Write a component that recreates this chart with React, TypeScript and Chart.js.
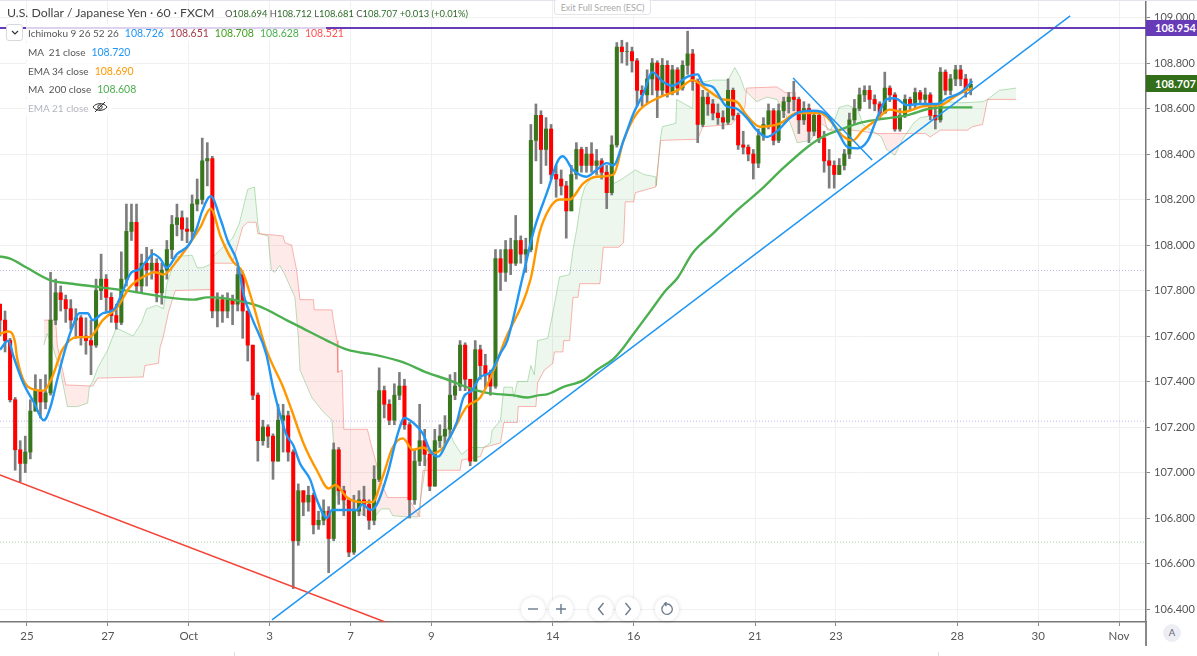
import React, { useEffect, useRef } from "react";
import { Chart, registerables } from "chart.js";

Chart.register(...registerables);

const candleStartHour = -16;
const candleStepHours = 3;

const closes = [
  107.67,107.58,107.32,107.10,107.04,107.09,107.27,107.36,107.31,107.35,
  107.67,107.79,107.76,107.72,107.67,107.68,107.60,107.58,107.56,107.80,
  107.85,107.77,107.69,107.66,107.85,108.06,108.10,107.82,107.92,107.89,
  107.92,107.79,107.89,107.98,108.09,108.12,108.07,108.06,108.18,108.20,
  108.37,108.38,107.71,107.76,107.71,107.76,107.74,107.87,107.71,107.56,
  107.34,107.14,107.20,107.16,107.05,107.23,107.25,107.09,106.70,106.92,
  106.87,106.90,106.77,106.79,106.83,106.71,107.10,106.92,106.88,106.65,
  106.83,106.88,106.86,106.79,106.97,107.36,107.30,107.23,107.34,107.38,
  107.21,106.88,107.05,107.14,107.08,106.94,107.14,107.16,107.19,107.34,
  107.38,107.56,107.41,107.05,107.54,107.47,107.43,107.38,107.94,107.88,
  107.98,107.92,108.02,107.96,107.98,108.46,108.57,108.42,108.51,108.31,
  108.29,108.26,108.15,108.31,108.42,108.35,108.40,108.35,108.37,108.32,
  108.23,108.44,108.87,108.85,108.85,108.81,108.68,108.66,108.73,108.80,
  108.68,108.79,108.67,108.77,108.69,108.79,108.84,108.72,108.53,108.65,
  108.62,108.58,108.56,108.54,108.68,108.57,108.44,108.43,108.40,108.36,
  108.48,108.53,108.59,108.46,108.59,108.63,108.65,108.64,108.55,108.60,
  108.50,108.57,108.47,108.37,108.35,108.31,108.35,108.40,108.55,108.60,
  108.66,108.68,108.64,108.62,108.58,108.69,108.66,108.51,108.57,108.64,
  108.62,108.67,108.64,108.66,108.57,108.55,108.76,108.68,108.73,108.77,
  108.73,108.68,108.707,
];
const firstOpen = 107.74;
const highs = [
  107.74,107.71,107.59,107.33,107.14,107.16,107.32,107.43,107.41,107.43,
  107.88,107.85,107.82,107.78,107.76,107.72,107.69,107.68,107.67,107.85,
  107.96,107.87,107.79,107.74,107.97,108.18,108.18,108.18,107.96,107.99,
  107.98,107.94,107.92,108.02,108.13,108.18,108.15,108.12,108.22,108.29,
  108.47,108.45,108.39,107.79,107.78,107.79,107.78,107.90,107.88,107.71,
  107.56,107.35,107.23,107.21,107.17,107.30,107.30,107.27,107.10,106.95,
  106.92,106.94,106.91,106.83,106.88,106.85,107.13,107.11,106.94,106.88,
  106.90,106.92,106.94,106.88,107.03,107.46,107.38,107.32,107.39,107.44,
  107.41,107.22,107.10,107.30,107.19,107.10,107.19,107.21,107.25,107.43,
  107.44,107.58,107.57,107.41,107.58,107.56,107.52,107.45,107.98,107.98,
  108.02,108.03,108.13,108.04,108.03,108.53,108.62,108.59,108.56,108.53,
  108.35,108.33,108.28,108.35,108.45,108.43,108.43,108.45,108.42,108.38,
  108.35,108.48,108.89,108.90,108.89,108.87,108.82,108.70,108.77,108.82,
  108.81,108.82,108.81,108.79,108.78,108.81,108.94,108.86,108.73,108.68,
  108.67,108.64,108.62,108.59,108.73,108.69,108.58,108.50,108.44,108.42,
  108.51,108.56,108.62,108.60,108.62,108.65,108.67,108.72,108.65,108.63,
  108.62,108.59,108.58,108.50,108.42,108.37,108.38,108.42,108.58,108.64,
  108.69,108.70,108.70,108.66,108.63,108.76,108.70,108.67,108.60,108.66,
  108.65,108.69,108.68,108.69,108.67,108.62,108.78,108.77,108.75,108.79,
  108.79,108.75,108.73,
];
const lows = [
  107.60,107.53,107.31,107.01,106.96,107.00,107.06,107.27,107.24,107.28,
  107.34,107.65,107.71,107.66,107.63,107.59,107.56,107.52,107.43,107.55,
  107.76,107.71,107.66,107.63,107.65,107.82,108.02,107.79,107.79,107.82,
  107.85,107.75,107.74,107.85,107.94,108.04,108.02,108.01,108.03,108.15,
  108.18,108.26,107.68,107.64,107.66,107.68,107.65,107.71,107.59,107.49,
  107.32,107.05,107.12,107.11,106.97,107.05,107.09,107.05,106.49,106.68,
  106.81,106.83,106.73,106.75,106.77,106.56,106.70,106.86,106.81,106.63,
  106.64,106.81,106.81,106.75,106.77,106.96,107.24,107.21,107.21,107.32,
  107.19,106.80,106.86,107.03,107.03,106.92,106.94,107.11,107.12,107.16,
  107.32,107.36,107.36,107.03,107.05,107.41,107.37,107.34,107.37,107.80,
  107.84,107.87,107.91,107.92,107.88,107.97,108.37,108.27,108.35,108.29,
  108.21,108.22,108.03,108.15,108.29,108.32,108.32,108.32,108.31,108.29,
  108.16,108.22,108.43,108.80,108.79,108.76,108.61,108.61,108.62,108.66,
  108.56,108.66,108.65,108.66,108.66,108.68,108.75,108.68,108.45,108.52,
  108.57,108.55,108.53,108.51,108.53,108.55,108.42,108.40,108.37,108.29,
  108.34,108.46,108.51,108.44,108.45,108.56,108.58,108.59,108.49,108.53,
  108.45,108.48,108.45,108.32,108.25,108.25,108.31,108.33,108.38,108.53,
  108.59,108.63,108.60,108.59,108.56,108.58,108.63,108.50,108.50,108.56,
  108.59,108.60,108.62,108.62,108.55,108.51,108.54,108.66,108.66,108.70,
  108.70,108.65,108.66,
];

const ma21Hours = [-16,-11,-8,-2,4,10,14,18,23,27,31,36,39,45,52,57,62,66,71,75,79,83,89,96,101,104,109,115,119,125,129,134,142,146,150,154,158,162,168,172,178,181,190,196,199,204,208,214,220,224,229,235,239,244,249,255,259,264,269,275,281,285,294,301,309,315,318,324,332,338,344,348,354,360,366,371,377,383,392,398,401,407,415,421,427,433,439,445,453,459,467,475,481,487,493,499,504,510,515,522,530,540,546,554,561];
const ma21Values = [107.54,107.58,107.51,107.39,107.31,107.23,107.29,107.41,107.55,107.64,107.70,107.70,107.67,107.70,107.72,107.80,107.88,107.89,107.93,107.96,107.94,107.90,107.96,108.00,108.08,108.15,108.215,108.11,108.02,107.92,107.77,107.67,107.52,107.375,107.26,107.165,107.12,107.04,106.97,106.88,106.80,106.835,106.835,106.835,106.86,106.835,106.865,106.995,107.17,107.24,107.22,107.17,107.10,107.07,107.13,107.22,107.33,107.36,107.42,107.44,107.525,107.58,107.855,108.07,108.24,108.37,108.39,108.33,108.30,108.33,108.36,108.35,108.46,108.58,108.67,108.76,108.72,108.70,108.74,108.75,108.71,108.695,108.61,108.60,108.56,108.505,108.475,108.50,108.56,108.585,108.59,108.57,108.50,108.43,108.425,108.46,108.55,108.64,108.645,108.615,108.62,108.62,108.645,108.67,108.72];

const ema34Hours = [-16,-11,-7,-6,1,10,15,21,30,37,45,54,61,69,76,81,89,96,103,109,115,122,128,134,142,152,157,164,172,179,183,190,198,205,211,217,223,229,235,241,247,253,261,269,277,283,299,304,310,316,322,330,338,348,354,362,374,386,395,404,413,421,427,435,447,457,471,478,484,490,496,504,512,520,532,542,552,561];
const ema34Values = [107.61,107.62,107.57,107.51,107.375,107.36,107.42,107.54,107.595,107.595,107.67,107.73,107.815,107.86,107.88,107.87,107.93,108.00,108.08,108.16,108.035,107.93,107.88,107.745,107.54,107.375,107.275,107.13,107.01,106.93,106.945,106.89,106.87,106.87,106.98,107.11,107.15,107.10,107.11,107.085,107.11,107.185,107.29,107.33,107.45,107.57,107.855,108.05,108.16,108.20,108.20,108.27,108.30,108.31,108.46,108.58,108.645,108.68,108.725,108.68,108.64,108.63,108.57,108.52,108.535,108.58,108.58,108.535,108.48,108.46,108.505,108.55,108.595,108.585,108.61,108.615,108.66,108.69];

const ma200Hours = [-16,-10,0,14,27,43,63,83,99,107,110,122,138,154,162,178,190,208,223,237,249,263,273,288,297,304,309,318,330,338,348,354,358,370,379,386,395,407,421,435,449,463,472,482,496,508,522,536,548,561];
const ma200Values = [107.95,107.94,107.90,107.845,107.83,107.815,107.795,107.77,107.76,107.77,107.77,107.76,107.73,107.67,107.64,107.58,107.54,107.515,107.485,107.44,107.41,107.37,107.35,107.34,107.33,107.34,107.345,107.375,107.405,107.45,107.50,107.55,107.59,107.71,107.80,107.855,107.965,108.05,108.15,108.24,108.34,108.43,108.475,108.505,108.54,108.555,108.57,108.60,108.605,108.605];

const cloudAHours = [10,12,15,20,24,30,36,37,39,42,48,50,53,63,68,71,77,81,83,85,89,98,101,104,109,110,116,122,126,131,135,137,138,143,145,147,150,153,159,161,162,169,176,181,184,189,205,210,215,217,226,232,237,250,253,258,263,271,275,276,281,283,288,289,291,297,299,301,303,309,312,316,322,324,326,329,331,335,342,348,352,361,366,373,373.5,376,377,385,385.5,395,395.5,407,416,420,423,426,433,439,445,453,457,465,471,477,482,487,493,496,507,510,515,520,526,530,538,546,554,567,570,577,587];
const cloudAValues = [107.56,107.61,107.56,107.44,107.29,107.29,107.305,107.375,107.40,107.46,107.54,107.58,107.635,107.60,107.66,107.72,107.735,107.72,107.83,107.875,107.95,107.955,107.90,107.90,107.915,107.945,107.99,108.03,108.095,108.245,108.255,108.095,108.05,108.04,107.89,107.88,107.91,107.87,107.77,107.595,107.45,107.33,107.265,107.23,106.90,106.86,106.79,106.84,106.84,106.81,106.805,106.805,107.055,107.20,107.135,107.08,107.11,107.11,107.13,107.185,107.23,107.375,107.375,107.33,107.40,107.40,107.47,107.43,107.58,107.59,107.70,107.86,107.87,107.98,108.06,108.205,108.255,108.295,108.32,108.27,108.285,108.33,108.31,108.30,108.26,108.475,108.52,108.535,108.64,108.60,108.71,108.725,108.725,108.78,108.74,108.68,108.63,108.65,108.64,108.535,108.45,108.46,108.535,108.505,108.605,108.615,108.595,108.53,108.475,108.42,108.395,108.47,108.535,108.56,108.57,108.63,108.625,108.63,108.64,108.68,108.69];

const cloudBHours = [10,17,18,23,39,42,69,70,78,79,81,84,88,110,110.5,122,128,131,136,137,152,153,157,160,162,170,170.5,181,182,184,184.5,187,188,202,204,211,214,226,233,234,235,257,258,269,271,281,283,291,291.5,302,303,307,312,313,318,318.5,322,324,327,328,340,342,351,354,355,360,361,373,376,398,401,418,426,427,445,450,456,456.5,472,475,490,505,533,536,542,558,561,567,570,587];
const cloudBValues = [107.67,107.67,107.56,107.385,107.38,107.415,107.42,107.47,107.48,107.55,107.60,107.705,107.80,107.805,107.92,107.92,108.08,108.10,108.10,108.05,108.04,108.01,108.00,107.89,107.76,107.76,107.715,107.715,107.66,107.58,107.44,107.45,107.19,107.19,107.13,106.94,106.89,106.89,106.805,106.935,107.01,107.01,107.055,107.07,107.11,107.13,107.22,107.22,107.29,107.29,107.395,107.45,107.48,107.53,107.53,107.58,107.58,107.77,107.77,107.83,107.83,107.99,107.99,108.01,108.19,108.19,108.23,108.255,108.46,108.465,108.52,108.53,108.605,108.69,108.695,108.67,108.67,108.59,108.59,108.505,108.505,108.49,108.49,108.475,108.505,108.505,108.52,108.53,108.64,108.64];

const supportLineHours = [145.4, 619];
const supportLineValues = [106.352, 109.007];
const resistanceLineHours = [-16, 212.5];
const resistanceLineValues = [106.989, 106.343];
const shortLineHours = [454.6, 501.5];
const shortLineValues = [108.734, 108.374];

const purpleLevel = 108.954;
const purpleDotLevels = [107.888, 107.226];
const greenDotLevel = 106.694;

const dayTickHours = [0, 48, 96, 144, 192, 240, 312, 360, 432, 480, 552, 600, 648];
const dayTickLabels = ["25", "27", "Oct", "3", "7", "9", "14", "16", "21", "23", "28", "30", "Nov"];

const axisMinHour = -16;
const axisMaxHour = 664;
const axisMinPrice = 106.343;
const axisMaxPrice = 109.077;

const UP = "#38761d";
const DOWN = "#ff0000";
const pts = (xs: number[], ys: number[]) => xs.map((x, i) => ({ x, y: ys[i] }));
const line = (data: any[], color: string, width: number, order: number, extra: any = {}) => ({
  type: "line", data, borderColor: color, borderWidth: width, pointRadius: 0, tension: 0, fill: false, order, ...extra,
});
const smooth = { cubicInterpolationMode: "monotone" };

const FONT = "Lato, 'Open Sans', sans-serif";

const row = (top: number, children: React.ReactNode, width: number) => (
  <div style={{ position: "absolute", left: 26, top, height: 17, width, background: "rgba(255,255,255,0.78)", display: "flex", alignItems: "center", whiteSpace: "pre", fontSize: 10, paddingLeft: 2, boxSizing: "border-box" }}>{children}</div>
);
const val = (t: string, c: string, ml = 6) => <span style={{ color: c, marginLeft: ml, fontSize: 10.5 }}>{t}</span>;

const circle = (cx: number, children: React.ReactNode) => (
  <div style={{ position: "absolute", left: cx - 12, top: 597, width: 24, height: 24, borderRadius: 12, background: "#fff", boxShadow: "0 0 4px rgba(0,0,0,0.14)", display: "flex", alignItems: "center", justifyContent: "center" }}>{children}</div>
);

export default function App() {
  const ref = useRef<HTMLCanvasElement | null>(null);
  useEffect(() => {
    const hours = closes.map((_, i) => candleStartHour + candleStepHours * i);
    const opens = closes.map((_, i) => (i === 0 ? firstOpen : closes[i - 1]));
    const colors = closes.map((c, i) => (c >= opens[i] ? UP : DOWN));
    const allLeft = axisMinHour;
    const allRight = axisMaxHour;
    const chart = new Chart(ref.current as HTMLCanvasElement, {
      type: "line",
      data: {
        datasets: [
          line(pts(cloudAHours, cloudAValues), "rgba(76,175,80,0.38)", 1, 20, {
            fill: { target: 1, above: "rgba(76,175,80,0.10)", below: "rgba(255,82,82,0.12)" },
          }),
          line(pts(cloudBHours, cloudBValues), "rgba(244,67,54,0.38)", 1, 19),
          line(pts([allLeft, allRight], [purpleDotLevels[0], purpleDotLevels[0]]), "rgba(120,80,220,0.42)", 1, 18, { borderDash: [1, 2] }),
          line(pts([allLeft, allRight], [purpleDotLevels[1], purpleDotLevels[1]]), "rgba(120,80,220,0.42)", 1, 18, { borderDash: [1, 2] }),
          line(pts([allLeft, allRight], [greenDotLevel, greenDotLevel]), "rgba(76,175,80,0.5)", 1, 18, { borderDash: [1, 2] }),
          {
            type: "bar", order: 12, grouped: false, barThickness: 2, backgroundColor: "#7d7d7d",
            data: hours.map((x, i) => ({ x, y: [lows[i], highs[i]] })),
          },
          {
            type: "bar", order: 11, grouped: false, barThickness: 3.4, backgroundColor: colors,
            data: hours.map((x, i) => ({ x, y: [opens[i], closes[i]] })),
          },
          line(pts(ma200Hours, ma200Values), "#4caf50", 2.4, 6, smooth),
          line(pts(ema34Hours, ema34Values), "#ff9800", 2.4, 5, smooth),
          line(pts(ma21Hours, ma21Values), "#2196f3", 2.4, 4, smooth),
          line(pts(supportLineHours, supportLineValues), "#2196f3", 1.5, 3),
          line(pts(shortLineHours, shortLineValues), "#2196f3", 1.5, 3),
          line(pts(resistanceLineHours, resistanceLineValues), "#f44336", 1.5, 3),
          line(pts([allLeft, allRight], [purpleLevel, purpleLevel]), "#673ab7", 2, 2),
        ] as any,
      },
      options: {
        animation: false,
        responsive: false,
        events: [],
        layout: { padding: 0, autoPadding: false },
        plugins: { legend: { display: false }, tooltip: { enabled: false } },
        scales: {
          x: {
            type: "linear",
            min: axisMinHour,
            max: axisMaxHour,
            offset: false,
            afterFit: (s: any) => { s.height = 34; s.paddingLeft = 0; s.paddingRight = 0; },
            afterBuildTicks: (s: any) => { s.ticks = dayTickHours.map((value) => ({ value })); },
            grid: { color: "#f0f0f0", tickColor: "#888", tickLength: 4, offset: false },
            border: { color: "#787878", width: 1.5 },
            ticks: {
              autoSkip: false, maxRotation: 0, padding: 3, color: "#555",
              font: { family: FONT, size: 11.5 },
              callback: (v: any) => dayTickLabels[dayTickHours.indexOf(Number(v))] ?? "",
            },
          },
          y: {
            type: "linear",
            position: "right",
            min: axisMinPrice,
            max: axisMaxPrice,
            afterFit: (s: any) => { s.width = 51; s.paddingTop = 0; s.paddingBottom = 0; },
            grid: { color: "#f0f0f0", tickColor: "#888", tickLength: 4 },
            border: { color: "#787878", width: 1.5 },
            ticks: {
              stepSize: 0.2, includeBounds: false, padding: 4, color: "#555",
              font: { family: FONT, size: 11 },
              callback: (v: any) => Number(v).toFixed(3),
            },
          },
        },
      } as any,
    });
    return () => chart.destroy();
  }, []);

  const grey = "#555";
  const ohlc = "#2f6b2a";
  return (
    <div style={{ position: "fixed", left: 0, top: 0, width: 1197, height: 656, overflow: "hidden", background: "#fff", fontFamily: FONT, color: grey }}>
      <canvas ref={ref} width={1197} height={656} style={{ display: "block", width: 1197, height: 656 }} />
      <div style={{ position: "absolute", left: 0, top: 0, width: 1197, height: 1, background: "#e4e4ee" }} />
      <div style={{ position: "absolute", left: 1145, top: 622, width: 2, height: 24, background: "#888" }} />
      <div style={{ position: "absolute", left: 7, top: 5, whiteSpace: "pre", display: "flex", alignItems: "baseline", height: 18 }}>
        <span style={{ fontSize: 12.3, color: "#444", width: 218 }}>U.S. Dollar / Japanese Yen · 60 · FXCM</span>
        <span style={{ fontSize: 9.4, color: ohlc }}>
          <span style={{ color: grey }}>O</span>108.694 <span style={{ color: grey }}>H</span>108.712 <span style={{ color: grey }}>L</span>108.681 <span style={{ color: grey }}>C</span>108.707 +0.013 (+0.01%)
        </span>
      </div>
      {row(24, <>Ichimoku 9 26 52 26{val("108.726", "#2196f3")}{val("108.651", "#a53c48")}{val("108.708", "#43a01e")}{val("108.628", "#4caf50")}{val("108.521", "#ff5252")}</>, 300)}
      {row(43, <>MA  21 close{val("108.720", "#2196f3")}</>, 106)}
      {row(62, <>EMA 34 close{val("108.690", "#ff9800")}</>, 106)}
      {row(80, <>MA  200 close{val("108.608", "#4caf50")}</>, 108)}
      {row(99, <span style={{ color: "#b4b6be" }}>EMA 21 close</span>, 86)}
      <svg width="16" height="12" viewBox="0 0 16 12" style={{ position: "absolute", left: 92, top: 101 }}>
        <path d="M1 6 C4 1.5 12 1.5 15 6 C12 10.5 4 10.5 1 6 Z" fill="none" stroke="#333" strokeWidth="1" />
        <circle cx="8" cy="6" r="2.2" fill="none" stroke="#333" strokeWidth="1" />
        <path d="M3 11 L13 1" stroke="#333" strokeWidth="1" />
      </svg>
      <div style={{ position: "absolute", left: 6, top: 24, width: 15, height: 15, border: "1px solid #d8d8e0", borderRadius: 3, background: "#fff", display: "flex", alignItems: "center", justifyContent: "center" }}>
        <svg width="8" height="5" viewBox="0 0 8 5"><path d="M1 1 L4 4 L7 1" fill="none" stroke="#333" strokeWidth="1.2" /></svg>
      </div>
      <div style={{ position: "absolute", left: 554, top: -1, width: 95, height: 14, border: "1px solid #e3e3e8", borderRadius: 3, background: "#fff", fontSize: 9, color: "#aaa", textAlign: "center", lineHeight: "15px", whiteSpace: "pre" }}>Exit Full Screen (ESC)</div>
      <div style={{ position: "absolute", left: 1146, top: 20, width: 51, height: 16, background: "#673ab7", color: "#fff", fontSize: 11, lineHeight: "16px", paddingLeft: 9, boxSizing: "border-box", fontWeight: 700 }}>108.954</div>
      <div style={{ position: "absolute", left: 1146, top: 75, width: 51, height: 17, background: "#336f1a", color: "#fff", fontSize: 11, lineHeight: "17px", paddingLeft: 9, boxSizing: "border-box", fontWeight: 700 }}>108.707</div>
      {circle(533, <svg width="12" height="12"><path d="M1 6 H11" stroke="#6b7b8d" strokeWidth="1.4" /></svg>)}
      {circle(561, <svg width="12" height="12"><path d="M1 6 H11 M6 1 V11" stroke="#6b7b8d" strokeWidth="1.4" /></svg>)}
      {circle(601, <svg width="8" height="14"><path d="M6.5 1 L1.5 7 L6.5 13" fill="none" stroke="#6b7b8d" strokeWidth="1.4" /></svg>)}
      {circle(628, <svg width="8" height="14"><path d="M1.5 1 L6.5 7 L1.5 13" fill="none" stroke="#6b7b8d" strokeWidth="1.4" /></svg>)}
      {circle(667, <svg width="14" height="14" viewBox="0 0 14 14"><path d="M4 3 A5.2 5.2 0 1 0 7 2 H4.5 M6.5 0 L4.3 2 L6.5 4" fill="none" stroke="#6b7b8d" strokeWidth="1.3" /></svg>)}
      <div style={{ position: "absolute", left: 1163, top: 624, width: 18, height: 18, borderRadius: 9, background: "#eceef4", color: "#667", fontSize: 9.5, lineHeight: "18px", textAlign: "center" }}>A</div>
      <div style={{ position: "absolute", left: 234, top: 652, width: 1, height: 4, background: "#ddd" }} />
      <div style={{ position: "absolute", left: 938, top: 652, width: 1, height: 4, background: "#ddd" }} />
    </div>
  );
}
